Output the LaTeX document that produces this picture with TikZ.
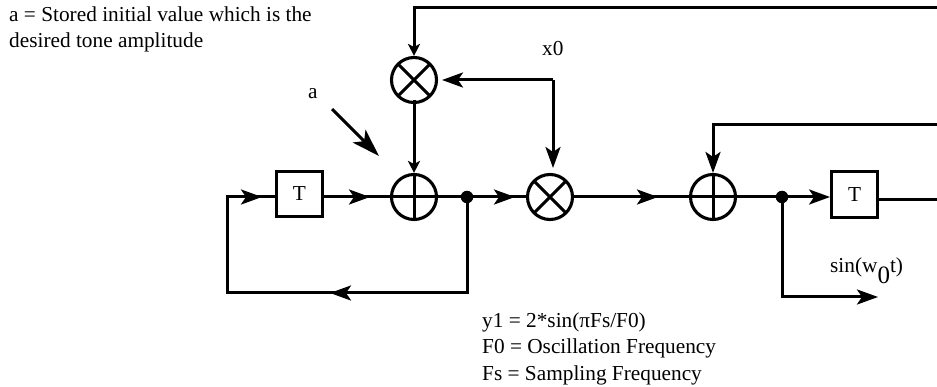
\documentclass[tikz,border=0pt]{standalone}
\usepackage{fontspec}
\setmainfont{Liberation Serif}
\usetikzlibrary{arrows.meta}
\tikzset{
  wire/.style={line width=3pt,line join=miter,line cap=butt},
  bigtip/.style={wire,-{Stealth[length=21pt,width=15pt,inset=5pt]}},
  hugetip/.style={wire,-{Stealth[length=28pt,width=18pt,inset=7pt]}},
  smalltip/.style={wire,-{Stealth[length=12pt,width=12pt,inset=3pt]}},
  delaybox/.style={draw,line width=3.3pt,minimum size=45.5pt,inner sep=0pt,font=\fontsize{21.3}{24}\selectfont},
  addnode/.style={circle,draw,line width=3.1pt,minimum size=45pt,inner sep=0pt,
    path picture={\draw[line width=3pt] (path picture bounding box.north)--(path picture bounding box.south)
      (path picture bounding box.west)--(path picture bounding box.east);}},
  mulnode/.style={circle,draw,line width=3.1pt,minimum size=45pt,inner sep=0pt,
    path picture={\draw[line width=3pt] (path picture bounding box.north west)--(path picture bounding box.south east)
      (path picture bounding box.south west)--(path picture bounding box.north east);}},
  joint/.style={circle,fill=black,minimum size=12.5pt,inner sep=0pt},
  label/.style={anchor=base west,inner sep=0pt,font=\fontsize{21.3}{24}\selectfont},
}
\begin{document}
\begin{tikzpicture}[x=1pt,y=-1pt]
\useasboundingbox (0,0) rectangle (937,387);
% nodes
\node[delaybox] (t1) at (299.5,194) {T};
\node[addnode] (s1) at (414,197) {};
\node[mulnode] (m1) at (414,80) {};
\node[mulnode] (m2) at (550,197) {};
\node[joint] (d1) at (467,197) {};
\node[addnode] (s2) at (713,197) {};
\node[joint] (d2) at (782,197) {};
\node[delaybox] (t2) at (854.5,194.5) {T};
% free ends and bends
\coordinate (ltop) at (227,197);
\coordinate (lbot) at (227,293);
\coordinate (dbot) at (467,293);
\coordinate (lmid) at (330,293);
\coordinate (ain) at (262,197);
\coordinate (t1out) at (370,197);
\coordinate (d1out) at (515,197);
\coordinate (m2out) at (658,197);
\coordinate (topr) at (937,8);
\coordinate (topl) at (414,8);
\coordinate (midr) at (937,125);
\coordinate (midl) at (713,125);
\coordinate (t2r) at (937,200);
\coordinate (xb) at (553,80);
\coordinate (xe) at (553,168);
\coordinate (xl) at (442,80);
\coordinate (aa) at (332,109);
\coordinate (ab) at (379,156);
\coordinate (ob) at (782,297);
\coordinate (oe) at (878,297);
\coordinate (m1low) at (414,100);
% wires
\draw[wire] (dbot) -- (lbot) -- (ltop) -- (t1.west |- ltop);
\draw[bigtip] (ltop) -- (ain);
\draw[wire] (t1.east |- s1) -- (s1);
\draw[bigtip] (t1.east |- s1) -- (t1out);
\draw[wire] (s1) -- (m2);
\draw[bigtip] (d1) -- (d1out);
\draw[wire] (m2) -- (s2);
\draw[bigtip] (m2) -- (m2out);
\draw[wire] (s2) -- (d2);
\draw[bigtip] (d2) -- (t2.west |- d2);
\draw[wire] (t2.east |- t2r) -- (t2r);
\draw[bigtip] (d1) -- (dbot) -- (lmid);
\draw[smalltip] (topr) -- (topl) -- (m1.north);
\draw[smalltip] (m1low) -- (s1.north);
\draw[bigtip] (xb) -- (xl);
\draw[bigtip] (xb) -- (xe);
\draw[bigtip] (midr) -- (midl) -- (s2.north);
\draw[bigtip] (d2) -- (ob) -- (oe);
\draw[hugetip] (aa) -- (ab);
% labels
\node[label] (l1) at (9,22) {a = Stored initial value which is the};
\node[label] (l2) at (9,48) {desired tone amplitude};
\node[label] (l3) at (308,99) {a};
\node[label] (l4) at (542,56) {x0};
\node[label] (l5) at (830,273) {sin(w\raisebox{-10pt}{\fontsize{25}{25}\selectfont 0}t)};
\node[label] (l8) at (482,327) {y1 = 2*sin(πFs/F0)};
\node[label] (l9) at (482,353) {F0 = Oscillation Frequency};
\node[label] (l10) at (482,380) {Fs = Sampling Frequency};
\end{tikzpicture}
\end{document}
